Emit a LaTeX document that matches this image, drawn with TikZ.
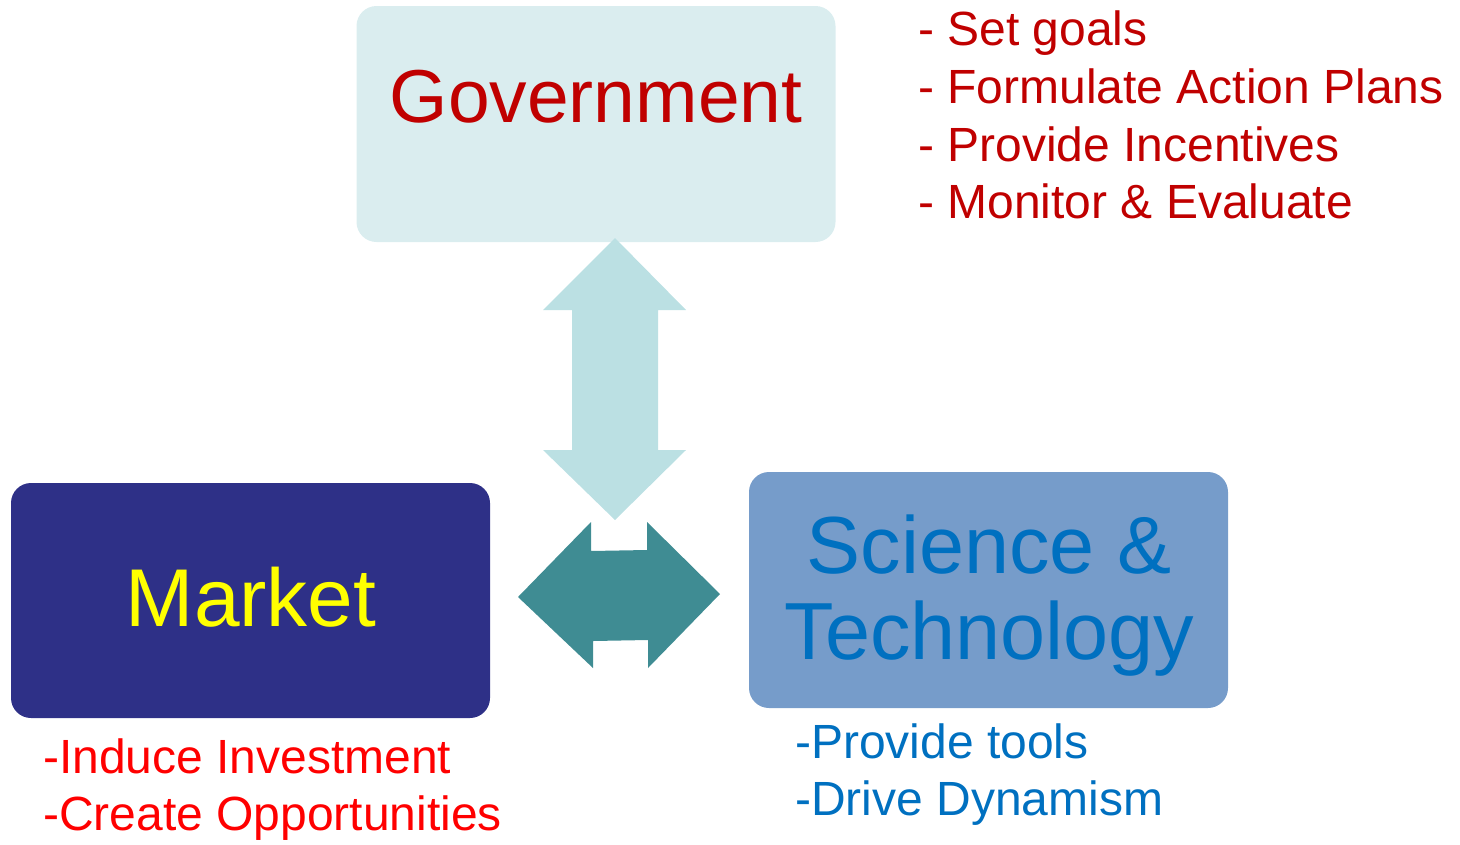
\documentclass[tikz,border=0pt]{standalone}
\usepackage{fontspec}
\setmainfont{Liberation Sans}
\definecolor{govfill}{HTML}{DAEDEF}
\definecolor{govred}{HTML}{C00000}
\definecolor{varrow}{HTML}{BBE0E3}
\definecolor{harrow}{HTML}{3F8C93}
\definecolor{mktfill}{HTML}{2E3087}
\definecolor{scifill}{HTML}{769CCA}
\definecolor{sciblue}{HTML}{0070C0}
\definecolor{brightred}{HTML}{FF0000}
\definecolor{brightyellow}{HTML}{FFFF00}
\tikzset{
  box/.style={rectangle, rounded corners=20pt, draw=none, minimum width=479pt, minimum height=236pt, inner sep=0pt},
  lbl/.style={inner sep=0pt, anchor=base},
  listline/.style={inner sep=0pt, anchor=base west, font=\fontsize{48}{58}\selectfont},
  bigtext/.style={font=\fontsize{#1}{#1}\selectfont},
}
\begin{document}
\begin{tikzpicture}[x=1pt,y=-1pt]
\useasboundingbox (0,0) rectangle (1460,844);
% boxes
\node[box, fill=govfill] (gov) at (596,124) {};
\node[box, fill=mktfill, minimum height=235pt] (mkt) at (250.5,600.5) {};
\node[box, fill=scifill] (sci) at (988.5,590) {};
% box labels
\node[lbl, bigtext=75, text=govred] (govt) at (596,122) {Government};
\node[lbl, bigtext=82, text=brightyellow] (mktt) at (251,626) {Market};
\node[lbl, bigtext=81, text=sciblue] (scit1) at (989,573) {Science \&};
\node[lbl, bigtext=81, text=sciblue] (scit2) at (989.5,659) {Technology};
% vertical double arrow
\coordinate (v1) at (615,238);
\coordinate (v2) at (686,310);
\coordinate (v3) at (658,310);
\coordinate (v4) at (658,450);
\coordinate (v5) at (686,450);
\coordinate (v6) at (615,520);
\coordinate (v7) at (543,450);
\coordinate (v8) at (572,450);
\coordinate (v9) at (572,310);
\coordinate (v10) at (543,310);
\fill[varrow] (v1) -- (v2) -- (v3) -- (v4) -- (v5) -- (v6) -- (v7) -- (v8) -- (v9) -- (v10) -- cycle;
% horizontal double arrow
\coordinate (h1) at (518,597);
\coordinate (h2) at (591,522);
\coordinate (h3) at (591,551);
\coordinate (h4) at (647,550);
\coordinate (h5) at (647,522);
\coordinate (h6) at (720,594);
\coordinate (h7) at (648,668);
\coordinate (h8) at (648,640);
\coordinate (h9) at (593,641);
\coordinate (h10) at (593,668);
\fill[harrow] (h1) -- (h2) -- (h3) -- (h4) -- (h5) -- (h6) -- (h7) -- (h8) -- (h9) -- (h10) -- cycle;
% government list
\node[listline, text=govred] (g1) at (918,45) {- Set goals};
\node[listline, text=govred] (g2) at (918,103) {- Formulate Action Plans};
\node[listline, text=govred] (g3) at (918,161) {- Provide Incentives};
\node[listline, text=govred] (g4) at (918,218) {- Monitor \& Evaluate};
% market list
\node[listline, text=brightred] (m1) at (43,773) {-Induce Investment};
\node[listline, text=brightred] (m2) at (43,830) {-Create Opportunities};
% science list
\node[listline, text=sciblue] (s1) at (795,758) {-Provide tools};
\node[listline, text=sciblue] (s2) at (795,815) {-Drive Dynamism};
\end{tikzpicture}
\end{document}
